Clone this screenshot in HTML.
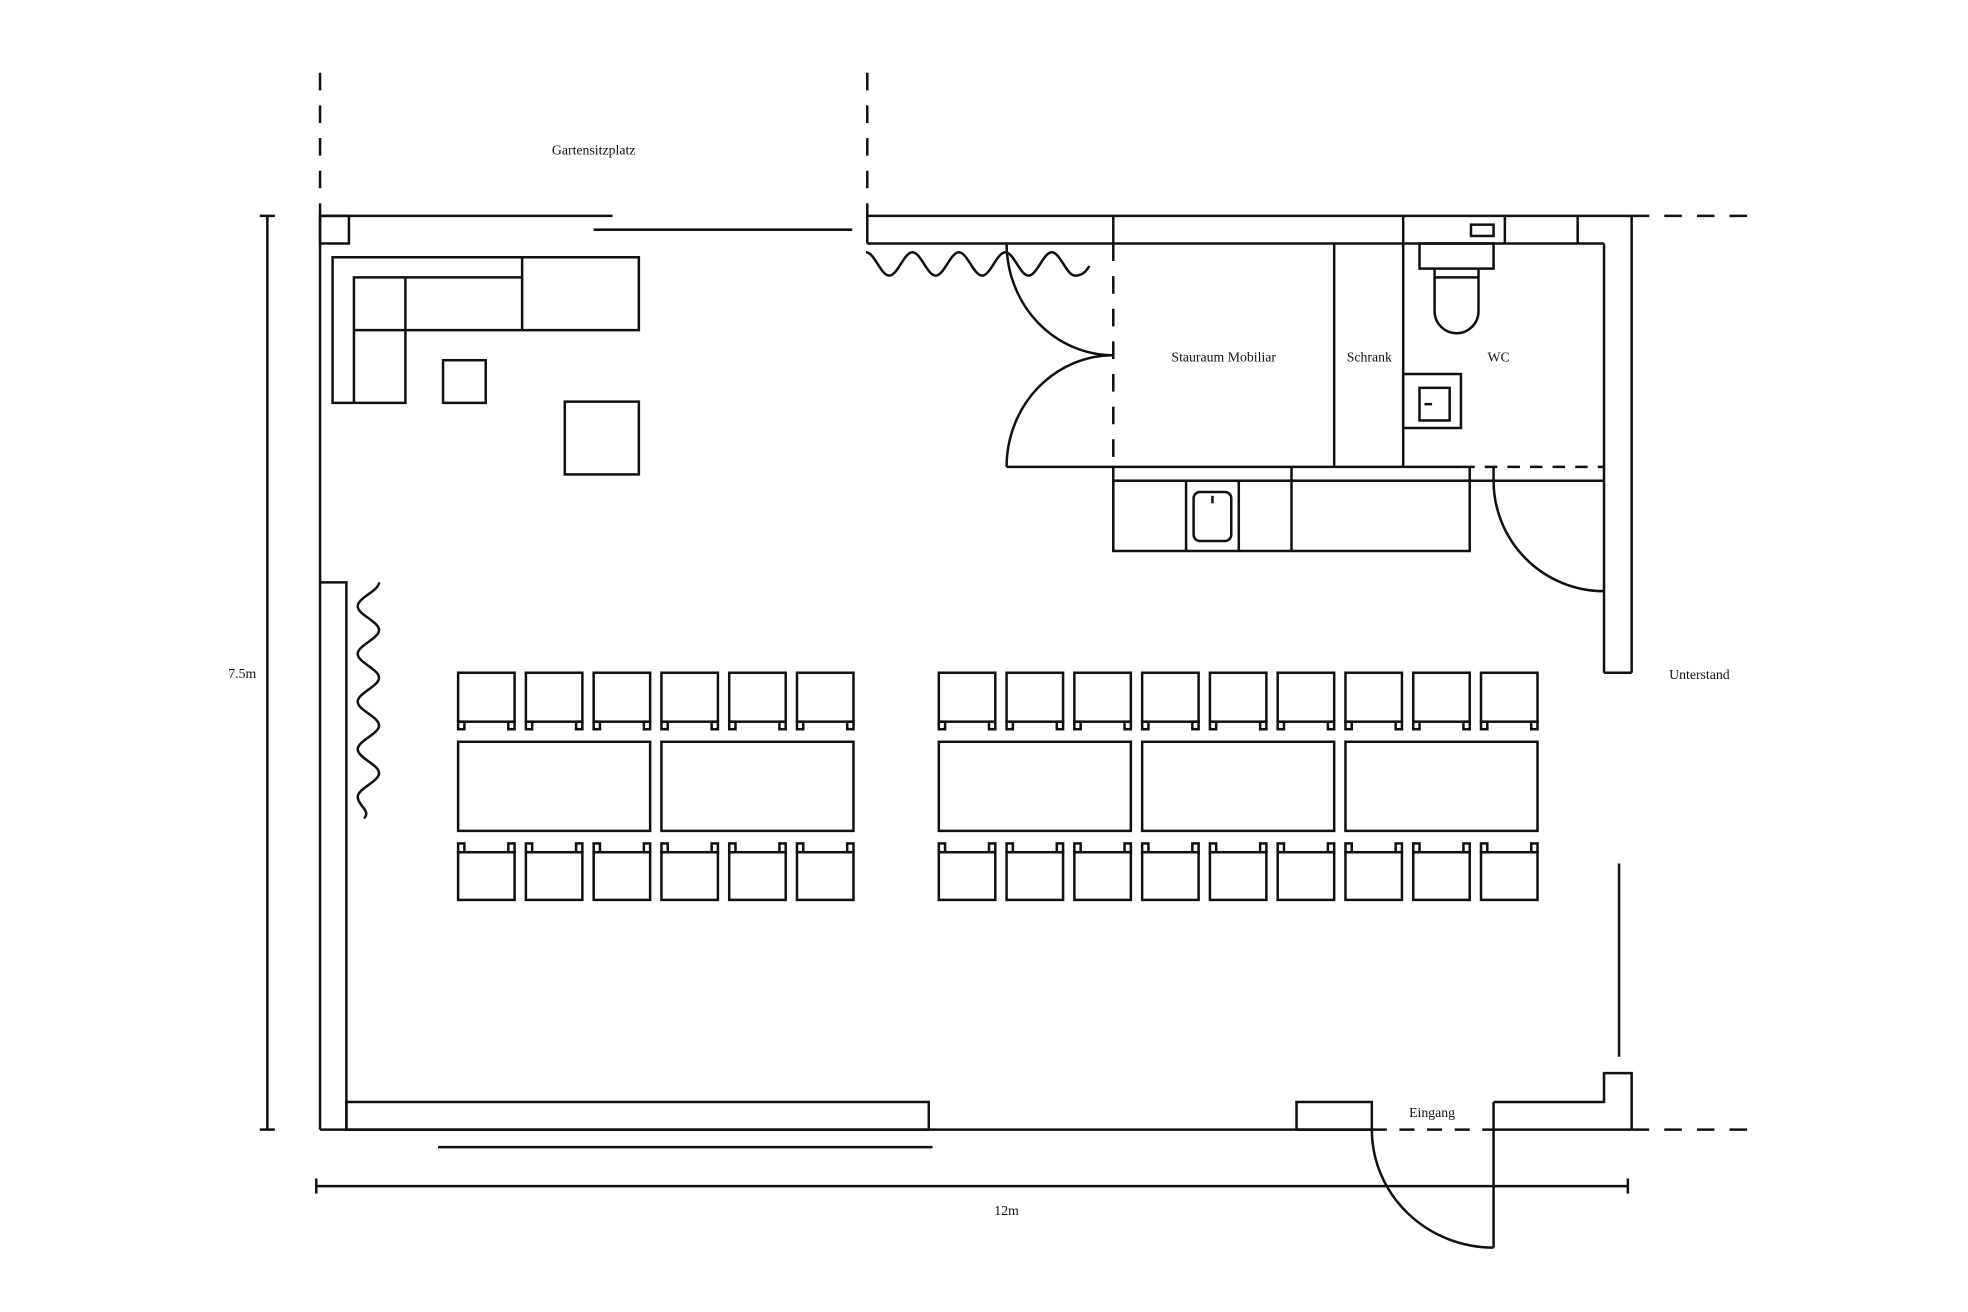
<!DOCTYPE html>
<html><head><meta charset="utf-8">
<style>
html,body{margin:0;padding:0;background:#fff;}
svg{display:block;}
text{font-family:"Liberation Serif",serif;font-size:11px;fill:#111;}
</style></head>
<body>
<svg width="1968" height="1312" viewBox="0 0 1568 1045.33" preserveAspectRatio="none" xmlns="http://www.w3.org/2000/svg">
<defs>
<g id="ct" fill="none" stroke="#111" stroke-width="2">
<rect x="0" y="0" width="45" height="39"/><rect x="0" y="39" width="5" height="6"/><rect x="40" y="39" width="5" height="6"/>
</g>
<g id="cb" fill="none" stroke="#111" stroke-width="2">
<rect x="0" y="7" width="45" height="38"/><rect x="0" y="0" width="5" height="7"/><rect x="40" y="0" width="5" height="7"/>
</g>
</defs>
<g fill="none" stroke="#111" stroke-width="2">
<g stroke-dasharray="14 12">
<line x1="255" y1="58" x2="255" y2="172"/>
<line x1="691" y1="58" x2="691" y2="185"/>
<line x1="1300" y1="172" x2="1392" y2="172"/>
<line x1="1300" y1="900" x2="1392" y2="900"/>
<line x1="887" y1="194" x2="887" y2="372"/>
<line x1="1165" y1="372" x2="1278" y2="372" stroke-dasharray="10 8"/>
<line x1="1093" y1="900" x2="1190" y2="900" stroke-dasharray="12 10"/>
</g>
<line x1="255" y1="172" x2="255" y2="900"/>
<line x1="255" y1="172" x2="488" y2="172"/>
<line x1="473" y1="183" x2="679" y2="183"/>
<rect x="255" y="172" width="23" height="22"/>
<line x1="691" y1="172" x2="1300" y2="172"/>
<line x1="691" y1="172" x2="691" y2="194"/>
<line x1="691" y1="194" x2="1278" y2="194"/>
<line x1="887" y1="172" x2="887" y2="194"/>
<line x1="1118" y1="172" x2="1118" y2="194"/>
<line x1="1199" y1="172" x2="1199" y2="194"/>
<line x1="1257" y1="172" x2="1257" y2="194"/>
<rect x="1172" y="179" width="18" height="9"/>
<line x1="1300" y1="172" x2="1300" y2="536"/>
<line x1="1278" y1="194" x2="1278" y2="536"/>
<line x1="1278" y1="536" x2="1300" y2="536"/>
<line x1="1290" y1="688" x2="1290" y2="842"/>
<polyline points="1190,878 1278,878 1278,855 1300,855 1300,900"/>
<line x1="1190" y1="900" x2="1300" y2="900"/>
<line x1="255" y1="900" x2="1093" y2="900"/>
<rect x="1033" y="878" width="60" height="22"/>
<rect x="276" y="878" width="464" height="22"/>
<polyline points="255,464 276,464 276,900"/>
<line x1="349" y1="914" x2="743" y2="914"/>
<line x1="1190" y1="878" x2="1190" y2="994"/>
<path d="M1093 900 A97 94 0 0 0 1190 994"/>
<line x1="252" y1="945" x2="1297" y2="945"/>
<line x1="252" y1="939" x2="252" y2="951"/>
<line x1="1297" y1="939" x2="1297" y2="951"/>
<line x1="213" y1="172" x2="213" y2="900"/>
<line x1="207" y1="172" x2="219" y2="172"/>
<line x1="207" y1="900" x2="219" y2="900"/>
<!-- curtains -->
<path d="M690 201 C696.7 201 701.8 219.6 708.5 219.6 S720.3 201 727 201 S738.8 219.6 745.5 219.6 S757.3 201 764 201 S775.8 219.6 782.5 219.6 S794.3 201 801 201 S812.8 219.6 819.5 219.6 S831.3 201 838 201 S849.8 219.6 856.5 219.6 S866 215 868 212"/>
<path d="M302 464 C302 470.8 285 476.2 285 483 S302 495.2 302 502 S285 514.2 285 521 S302 533.2 302 540 S285 552.2 285 559 S302 571.2 302 578 S285 590.2 285 597 S302 609.2 302 616 S285 628.2 285 635 S296 646 290 652"/>
<line x1="802" y1="372" x2="1165" y2="372"/>
<line x1="1063" y1="194" x2="1063" y2="372"/>
<line x1="1118" y1="194" x2="1118" y2="372"/>
<path d="M802 194 A85 89 0 0 0 887 283"/>
<path d="M887 283 A85 89 0 0 0 802 372"/>
<rect x="1131" y="194" width="59" height="20"/>
<path d="M1143 214 L1143 248 A17.5 17.5 0 0 0 1178 248 L1178 214"/>
<line x1="1143" y1="221" x2="1178" y2="221"/>
<rect x="1118" y="298" width="46" height="43"/>
<rect x="1131" y="309" width="24" height="26"/>
<line x1="1135" y1="322" x2="1141" y2="322"/>
<line x1="887" y1="372" x2="887" y2="439"/>
<line x1="887" y1="383" x2="1278" y2="383"/>
<rect x="887" y="383" width="284" height="56"/>
<line x1="945" y1="383" x2="945" y2="439"/>
<line x1="987" y1="383" x2="987" y2="439"/>
<line x1="1029" y1="372" x2="1029" y2="439"/>
<line x1="1171" y1="372" x2="1171" y2="383"/>
<rect x="951" y="392" width="30" height="39" rx="5"/>
<line x1="966" y1="395" x2="966" y2="401"/>
<line x1="1190" y1="372" x2="1190" y2="383"/>
<path d="M1190 383 A88 88 0 0 0 1278 471"/>
<polygon points="265,205 509,205 509,263 323,263 323,321 265,321"/>
<line x1="416" y1="205" x2="416" y2="263"/>
<polyline points="282,321 282,221 416,221"/>
<line x1="282" y1="263" x2="323" y2="263"/>
<line x1="323" y1="221" x2="323" y2="263"/>
<rect x="353" y="287" width="34" height="34"/>
<rect x="450" y="320" width="59" height="58"/>
<rect x="365" y="591" width="153" height="71"/>
<rect x="527" y="591" width="153" height="71"/>
<rect x="748" y="591" width="153" height="71"/>
<rect x="910" y="591" width="153" height="71"/>
<rect x="1072" y="591" width="153" height="71"/>
</g>
<g>
<use href="#ct" x="365" y="536"/><use href="#ct" x="419" y="536"/><use href="#ct" x="473" y="536"/><use href="#ct" x="527" y="536"/><use href="#ct" x="581" y="536"/><use href="#ct" x="635" y="536"/>
<use href="#ct" x="748" y="536"/><use href="#ct" x="802" y="536"/><use href="#ct" x="856" y="536"/><use href="#ct" x="910" y="536"/><use href="#ct" x="964" y="536"/><use href="#ct" x="1018" y="536"/><use href="#ct" x="1072" y="536"/><use href="#ct" x="1126" y="536"/><use href="#ct" x="1180" y="536"/>
<use href="#cb" x="365" y="672"/><use href="#cb" x="419" y="672"/><use href="#cb" x="473" y="672"/><use href="#cb" x="527" y="672"/><use href="#cb" x="581" y="672"/><use href="#cb" x="635" y="672"/>
<use href="#cb" x="748" y="672"/><use href="#cb" x="802" y="672"/><use href="#cb" x="856" y="672"/><use href="#cb" x="910" y="672"/><use href="#cb" x="964" y="672"/><use href="#cb" x="1018" y="672"/><use href="#cb" x="1072" y="672"/><use href="#cb" x="1126" y="672"/><use href="#cb" x="1180" y="672"/>
</g>
<g text-anchor="middle">
<text x="473" y="123">Gartensitzplatz</text>
<text x="975" y="288">Stauraum Mobiliar</text>
<text x="1091" y="288">Schrank</text>
<text x="1194" y="288">WC</text>
<text x="1354" y="541">Unterstand</text>
<text x="1141" y="890">Eingang</text>
<text x="802" y="968">12m</text>
<text x="193" y="540">7.5m</text>
</g>
</svg>
</body></html>
